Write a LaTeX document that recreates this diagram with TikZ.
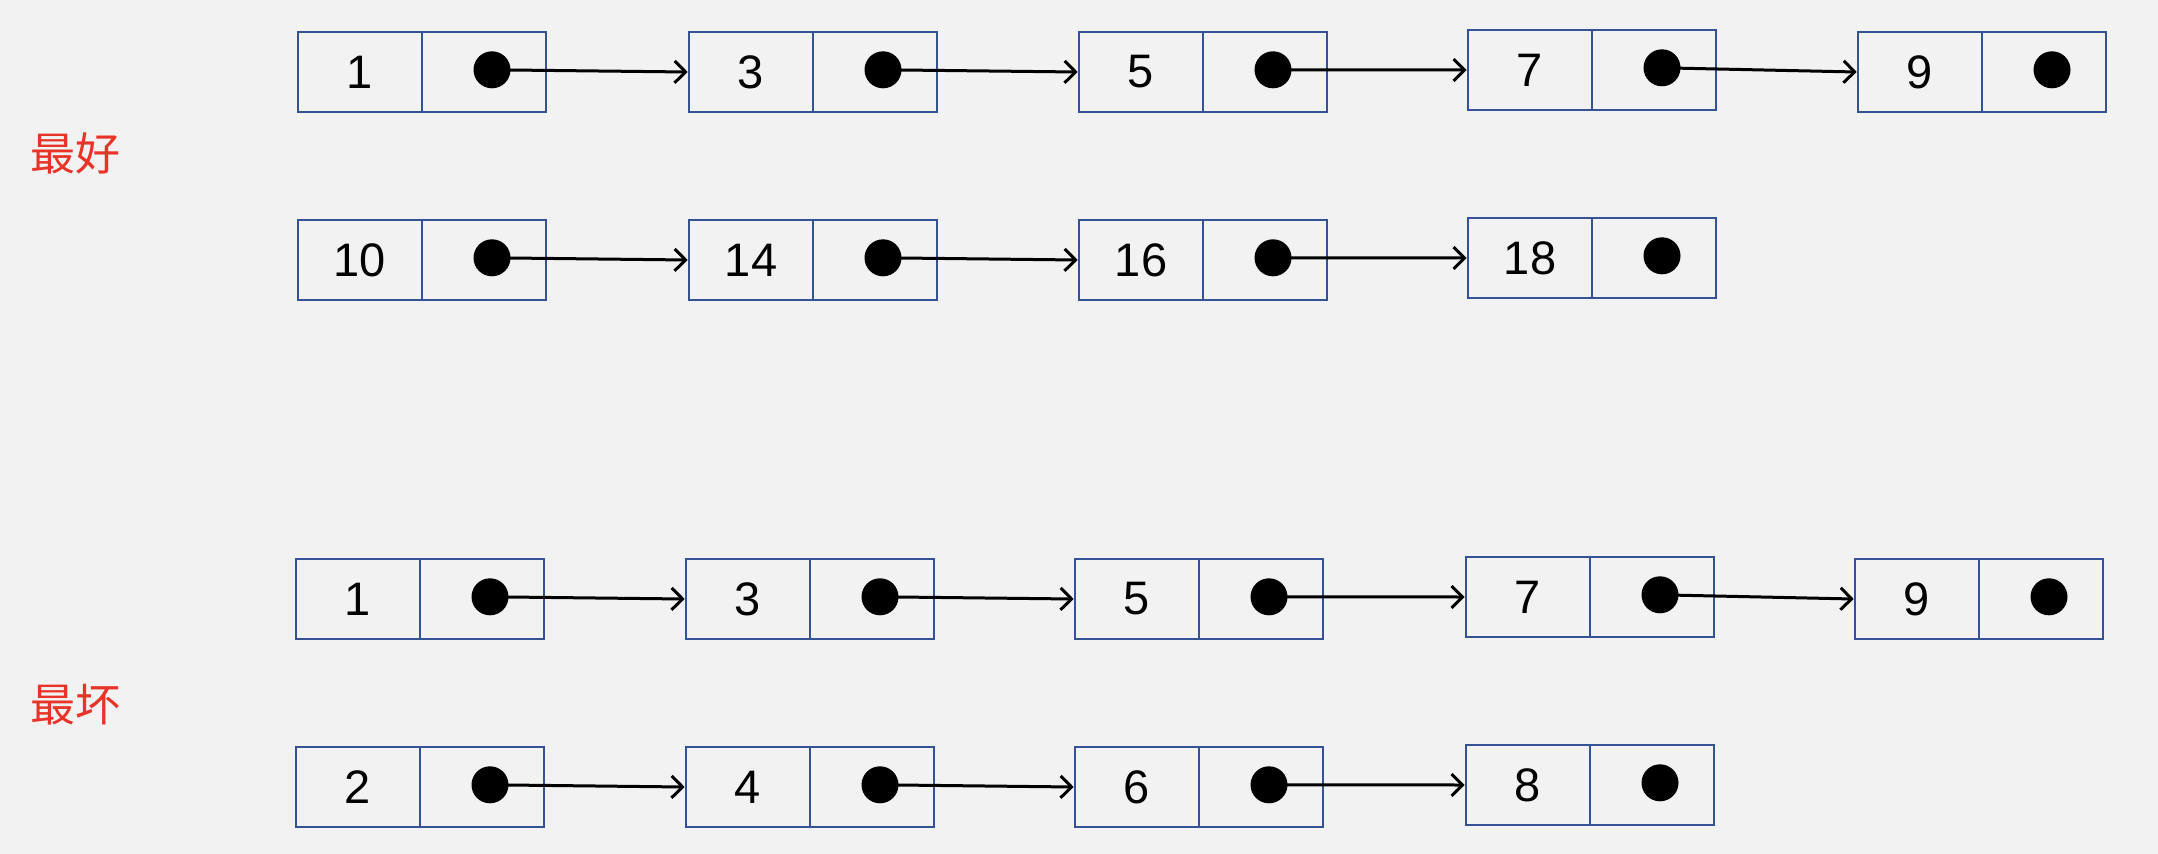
\documentclass[tikz,border=0pt]{standalone}
\usepackage{fontspec}
\setmainfont{Liberation Sans}
\newfontfamily\cjk{Noto Sans CJK SC}
\usetikzlibrary{arrows.meta}
\definecolor{bg}{HTML}{F2F2F2}
\definecolor{cellblue}{RGB}{52,82,148}
\definecolor{labelred}{RGB}{232,52,40}

% one list element: #1 name, #2 left x, #3 centre y, #4 value
\newcommand{\listelem}[4]{%
  \node[datacell] (#1d) at (#2+62, #3) {#4};
  \node[ptrcell]  (#1p) at (#2+186, #3) {};
  \node[ptrdot]   (#1dot) at (#2+194, #3-2.2) {};
}

\begin{document}
\begin{tikzpicture}[x=1pt, y=-1pt,
  datacell/.style={draw=cellblue, line width=2.6pt, rectangle, inner sep=0pt,
    minimum width=124pt, minimum height=80pt,
    font=\fontsize{47}{47}\selectfont},
  ptrcell/.style={draw=cellblue, line width=2.6pt, rectangle, inner sep=0pt,
    minimum width=124pt, minimum height=80pt},
  ptrdot/.style={circle, fill=black, inner sep=0pt, minimum size=37pt},
  link/.style={draw=black, line width=3pt,
    -{Straight Barb[length=11pt, width=22pt, line width=3pt]}},
  caption/.style={text=labelred, font=\cjk\fontsize{45}{45}\selectfont}]

\useasboundingbox[fill=bg] (0,0) rectangle (2158,854);

% best case
\node[caption] (best) at (75,153) {最好};
\listelem{a1}{298}{72}{1}
\listelem{a2}{689}{72}{3}
\listelem{a3}{1079}{72}{5}
\listelem{a4}{1468}{70}{7}
\listelem{a5}{1858}{72}{9}

\listelem{b1}{298}{260}{10}
\listelem{b2}{689}{260}{14}
\listelem{b3}{1079}{260}{16}
\listelem{b4}{1468}{258}{18}

% worst case
\node[caption] (worst) at (75,705) {最坏};
\listelem{c1}{296}{599}{1}
\listelem{c2}{686}{599}{3}
\listelem{c3}{1075}{599}{5}
\listelem{c4}{1466}{597}{7}
\listelem{c5}{1855}{599}{9}

\listelem{d1}{296}{787}{2}
\listelem{d2}{686}{787}{4}
\listelem{d3}{1075}{787}{6}
\listelem{d4}{1466}{785}{8}

% next pointers
\foreach \r/\n in {a/5, b/4, c/5, d/4} {
  \pgfmathtruncatemacro{\last}{\n-1}
  \foreach \i in {1,...,\last} {
    \pgfmathtruncatemacro{\j}{\i+1}
    \draw[link] (\r\i dot.center) -- (\r\j d.west);
  }
}
\end{tikzpicture}
\end{document}
